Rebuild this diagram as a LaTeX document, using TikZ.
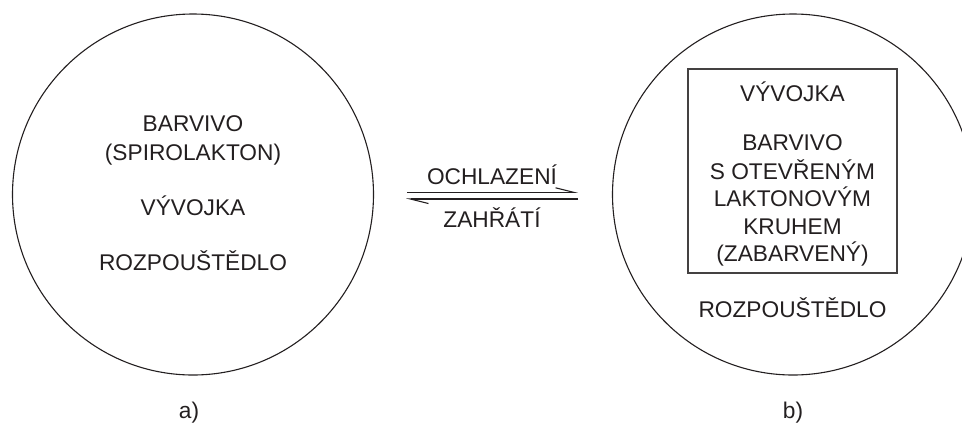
\documentclass[tikz,border=0pt]{standalone}
\usepackage{fontspec}
\setmainfont{Liberation Sans}
\usetikzlibrary{arrows.meta}
\definecolor{ink}{HTML}{231F20}
\begin{document}
\begin{tikzpicture}[x=1pt,y=-1pt,
  txt/.style={anchor=base,inner sep=0pt,text=ink,font=\fontsize{22.7}{28}\selectfont},
  ring/.style={draw=ink,line width=1.1pt,circle,inner sep=0pt,minimum size=361pt},
  frame/.style={draw=ink!85,line width=1.1pt,rectangle,inner sep=0pt},
  eqarrow/.style={draw=ink,line width=1.1pt,-{Straight Barb[harpoon,length=18pt,width=9pt,line width=1.1pt]}}]
\useasboundingbox (0,0) rectangle (962,424);
\clip (0,0) rectangle (962,424);
% circles
\node[ring] (A) at (193,194.5) {};
\node[ring] (B) at (793,194.5) {};
% left texts
\node[txt] (a1) at (193,131.7) {BARVIVO};
\node[txt] (a2) at (193,160) {(SPIROLAKTON)};
\node[txt] (a3) at (193,215) {VÝVOJKA};
\node[txt] (a4) at (193,270) {ROZPOUŠTĚDLO};
% right box
\node[frame,minimum width=209pt,minimum height=204pt] (box) at (792.5,171) {};
\node[txt] (b1) at (792.5,101) {VÝVOJKA};
\node[txt] (b2) at (792.5,150.7) {BARVIVO};
\node[txt] (b3) at (792.5,179) {S OTEVŘENÝM};
\node[txt] (b4) at (792.5,206.7) {LAKTONOVÝM};
\node[txt] (b5) at (792.5,234) {KRUHEM};
\node[txt] (b6) at (792.5,261) {(ZABARVENÝ)};
\node[txt] (b7) at (792.5,317) {ROZPOUŠTĚDLO};
% equilibrium arrows
\coordinate (p1) at (407,192.3);
\coordinate (p2) at (578,192.3);
\coordinate (q1) at (578,199);
\coordinate (q2) at (406,199);
\draw[eqarrow] (p1) -- (p2);
\draw[eqarrow] (q1) -- (q2);
\node[txt] (up) at (492,184) {OCHLAZENÍ};
\node[txt] (dn) at (492,227) {ZAHŘÁTÍ};
% captions
\node[txt] (ca) at (189,418) {a)};
\node[txt] (cb) at (793,418) {b)};
\end{tikzpicture}
\end{document}
